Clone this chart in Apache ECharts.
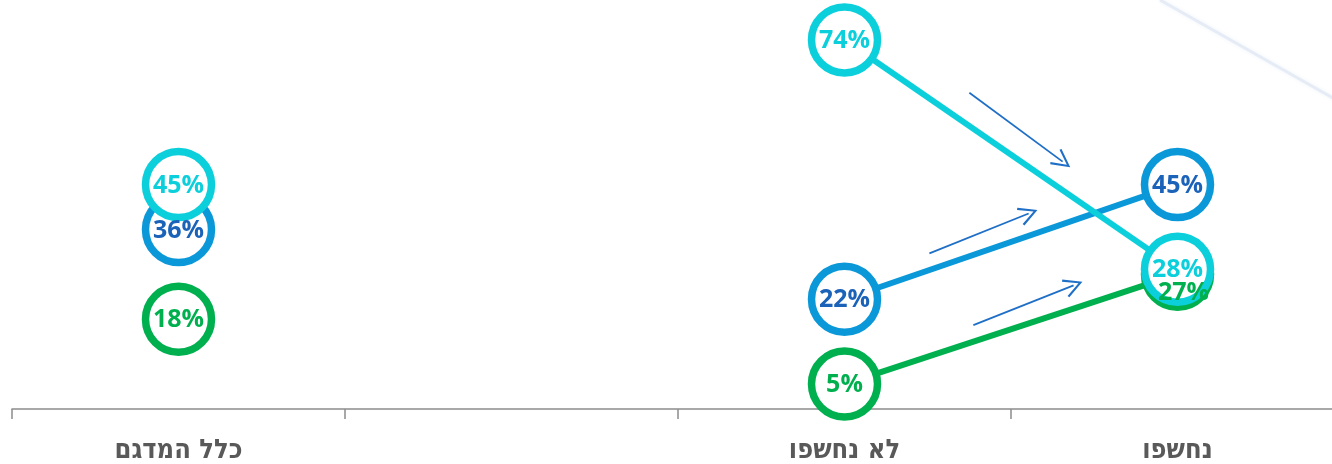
<!DOCTYPE html>
<html>
<head>
<meta charset="utf-8">
<script src="https://cdn.jsdelivr.net/npm/echarts@6/dist/echarts.min.js"></script>
<style>
  html, body { margin: 0; padding: 0; background: #ffffff; overflow: hidden; }
  #chart { width: 1344px; height: 464px; }
</style>
</head>
<body>
<div id="chart"></div>
<script>
// Categories along the bottom axis (one blank gap column)
const categories = ['כלל המדגם', '', 'לא נחשפו', 'נחשפו'];

// Percent values per group; null leaves the gap column empty
const cyanValues  = [45, null, 74, 28];
const blueValues  = [36, null, 22, 45];
const greenValues = [18, null, 5, 27];

// Trend arrows: [startX, startY] -> [endX, endY] in category-index / percent units
const trendArrows = [
  [[2.375, 63.4], [2.655, 49.6]],
  [[2.255, 31.2], [2.553, 39.2]],
  [[2.387, 16.8], [2.688, 24.8]]
];

const CYAN = '#0ccfdc';
const BLUE = '#0a98d9';
const BLUE_TEXT = '#1a63b9';
const GREEN = '#00b04f';

const chart = echarts.init(document.getElementById('chart'));

function ringSeries(name, values, ringColor, textColor, labelOffsets) {
  return {
    name: name,
    type: 'line',
    data: values.map((v, i) => ({
      value: v,
      label: labelOffsets && labelOffsets[i] ? { offset: labelOffsets[i] } : undefined
    })),
    connectNulls: false,
    symbol: 'circle',
    symbolSize: 66,
    showAllSymbol: true,
    lineStyle: { color: ringColor, width: 6 },
    itemStyle: { color: '#ffffff', borderColor: ringColor, borderWidth: 7.5 },
    label: {
      show: true,
      position: 'inside',
      offset: [0, 1],
      formatter: p => p.value + '%',
      color: textColor,
      fontFamily: '"Open Sans", Lato, sans-serif',
      fontWeight: 'bold',
      fontSize: 25
    },
    emphasis: { disabled: true },
    animation: false
  };
}

chart.setOption({
  backgroundColor: '#ffffff',
  grid: { left: 12, right: 0, top: 10, height: 400 },
  xAxis: [
    {
      type: 'category',
      data: categories,
      boundaryGap: true,
      axisLine: { lineStyle: { color: '#8c8c8c', width: 1.5 } },
      axisTick: { show: true, interval: 0, length: 10, lineStyle: { color: '#8c8c8c', width: 1.5 } },
      axisLabel: {
        interval: 0,
        margin: 28,
        color: '#595959',
        fontFamily: '"DejaVu Sans Condensed", "DejaVu Sans", sans-serif',
        fontWeight: 'bold',
        fontSize: 27
      }
    },
    {
      type: 'value',
      min: -0.5,
      max: 3.5,
      show: false
    }
  ],
  yAxis: {
    type: 'value',
    min: 0,
    max: 80,
    show: false
  },
  graphic: [
    {
      type: 'line',
      z: -10,
      shape: { x1: 1160, y1: 0, x2: 1340, y2: 102 },
      style: { stroke: '#e6ecf6', lineWidth: 3, shadowBlur: 4, shadowColor: '#eef2f9' },
      silent: true
    }
  ],
  series: [
    ringSeries('green', greenValues, GREEN, GREEN, [null, null, null, [6, 19]]),
    ringSeries('blue', blueValues, BLUE, BLUE_TEXT, null),
    ringSeries('cyan', cyanValues, CYAN, CYAN, null),
    {
      type: 'lines',
      coordinateSystem: 'cartesian2d',
      xAxisIndex: 1,
      yAxisIndex: 0,
      data: trendArrows.map(a => ({ coords: a })),
      symbol: ['none', 'path://M0,0 L9,16 L7.2,17 L0,3.8 L-7.2,17 L-9,16 Z'],
      symbolSize: [19, 19],
      lineStyle: { color: '#1f6fc6', width: 1.8, opacity: 1 },
      itemStyle: { color: '#1f6fc6' },
      silent: true,
      animation: false,
      z: 1
    }
  ]
});
</script>
</body>
</html>
